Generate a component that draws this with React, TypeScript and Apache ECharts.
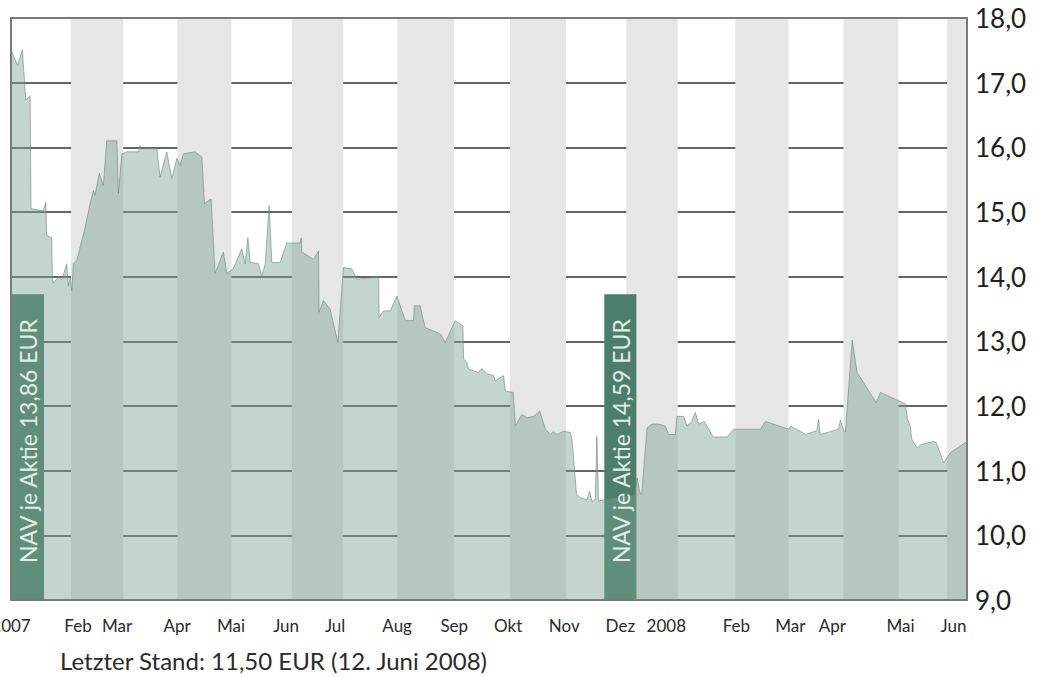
import React, { useEffect, useRef } from "react";
import * as echarts from "echarts";

// x unit: days since 1 Jan 2007
const xMin = -2.3;
const xMax = 528;
const yMin = 9;
const yMax = 18;

const firstTickLabel = "2007";
const tickDays = [34.9, 56.5, 89.8, 119.8, 150.3, 177.5, 211.9, 243.6, 273.5, 304.6, 335.7, 361.2, 400.1, 430.0, 453.3, 491.1, 520.5];
const tickLabels = ["Feb", "Mar", "Apr", "Mai", "Jun", "Jul", "Aug", "Sep", "Okt", "Nov", "Dez", "2008", "Feb", "Mar", "Apr", "Mai", "Jun"];

const monthStarts = [31, 60, 90, 120, 153.5, 182, 212, 243.5, 274.5, 305.5, 339, 367.5, 399.5, 429, 459.5, 490, 517];

const navDays = [-2.3, 1.4, 4.0, 5.9, 8.3, 8.8, 15.6, 17.0, 17.5, 20.3,
  20.6, 21.2, 24.0, 26.0, 28.6, 29.5, 30.5, 31.4, 32.3, 34.2,
  38.8, 41.6, 43.4, 44.3, 46.7, 48.9, 50.8, 56.4, 57.3, 59.2,
  61.9, 68.4, 69.3, 70.3, 78.6, 80.4, 84.1, 86.9, 89.7, 91.5,
  93.3, 99.8, 103.6, 105.0, 108.7, 110.9, 115.5, 117.4, 120.9, 125.7,
  127.6, 129.1, 130.4, 135.0, 136.8, 138.7, 140.9, 142.4, 147.0, 150.7,
  158.1, 158.7, 159.0, 165.5, 168.3, 168.6, 171.0, 174.7, 179.0, 182.1,
  186.8, 189.6, 201.6, 201.9, 204.3, 208.0, 211.8, 216.4, 221.0, 221.4,
  224.7, 225.8, 227.5, 234.0, 236.3, 238.5, 244.1, 248.4, 248.7, 250.6,
  251.5, 257.1, 258.9, 261.7, 265.4, 266.3, 270.9, 271.9, 276.3, 277.5,
  281.1, 284.0, 287.7, 291.0, 294.2, 297.0, 298.6, 300.6, 304.2, 307.9,
  308.9, 311.4, 313.5, 317.2, 318.6, 320.0, 321.8, 322.7, 323.6, 326.4,
  335.8, 343.5, 345.0, 346.8, 347.7, 350.5, 353.3, 356.9, 360.6, 362.5,
  366.2, 367.1, 370.8, 372.7, 375.1, 377.3, 379.1, 382.3, 387.1, 394.9,
  398.6, 413.4, 416.2, 429.2, 430.1, 438.5, 444.7, 445.7, 446.6, 456.8,
  457.7, 459.6, 460.6, 464.3, 467.0, 477.7, 480.0, 493.9, 494.9, 496.6,
  497.2, 500.3, 502.2, 505.9, 509.5, 511.0, 515.1, 518.8, 528];

const navValues = [17.5, 17.27, 17.51, 16.73, 16.8, 15.05, 15.02, 15.15, 14.64, 14.6,
  14.0, 13.9, 14.0, 13.95, 14.2, 13.86, 14.0, 13.78, 14.2, 14.25,
  14.76, 15.13, 15.33, 15.26, 15.6, 15.41, 16.1, 16.1, 15.29, 15.9,
  15.93, 15.93, 16.03, 15.98, 15.98, 15.54, 15.93, 15.52, 15.83, 15.72,
  15.9, 15.93, 15.85, 15.13, 15.2, 14.05, 14.38, 14.05, 14.12, 14.43,
  14.2, 14.6, 14.22, 14.2, 14.0, 14.2, 15.1, 14.22, 14.22, 14.52,
  14.52, 14.6, 14.38, 14.27, 14.4, 13.45, 13.63, 13.5, 12.98, 14.14,
  14.12, 13.96, 14.0, 13.37, 13.47, 13.47, 13.7, 13.32, 13.32, 13.55,
  13.55, 13.4, 13.21, 13.14, 13.1, 12.98, 13.32, 13.24, 12.73, 12.67,
  12.57, 12.52, 12.58, 12.5, 12.47, 12.39, 12.47, 12.23, 12.21, 11.69,
  11.87, 11.82, 11.84, 11.92, 11.64, 11.56, 11.6, 11.56, 11.61, 11.59,
  11.48, 10.63, 10.58, 10.55, 10.68, 10.52, 10.55, 11.53, 10.53, 10.55,
  10.58, 10.62, 10.89, 10.63, 10.68, 11.66, 11.72, 11.72, 11.69, 11.56,
  11.56, 11.84, 11.84, 11.69, 11.75, 11.9, 11.72, 11.76, 11.52, 11.52,
  11.64, 11.64, 11.76, 11.64, 11.69, 11.56, 11.62, 11.79, 11.56, 11.64,
  11.78, 11.62, 11.6, 13.02, 12.52, 12.05, 12.21, 12.03, 11.8, 11.69,
  11.5, 11.35, 11.4, 11.43, 11.45, 11.43, 11.12, 11.28, 11.45];

const boxStarts = [-2.3, 326.8];
const boxEnds = [16, 344.6];
const boxTops = [13.73, 13.73];
const boxLabels = ["NAV je Aktie 13,86 EUR", "NAV je Aktie 14,59 EUR"];

const footnote = "Letzter Stand: 11,50 EUR (12. Juni 2008)";

const FONT = "Lato, 'Open Sans', sans-serif";
const BORDER = "#7a7a7a";
const GRIDLINE = "#656565";

export default function App() {
  const ref = useRef<HTMLDivElement>(null);

  useEffect(() => {
    document.body.style.margin = "0";
    if (!ref.current) return;
    const chart = echarts.init(ref.current, undefined, { renderer: "svg" });

    const lineData = navDays.map((d, i) => [d, navValues[i]]);
    const bands: any[] = [];
    for (let i = 0; i < monthStarts.length; i += 2) {
      const a = monthStarts[i];
      const b = i + 1 < monthStarts.length ? monthStarts[i + 1] : xMax;
      bands.push([{ xAxis: a }, { xAxis: b }]);
    }
    const boxData = boxStarts.map((s, i) => [s, boxEnds[i], boxTops[i], yMin]);

    const xLabelStyle = {
      color: "#2a2a2a",
      fontSize: 17,
      fontFamily: FONT,
      margin: 17,
    };

    const borderAxisY = (position: string) => ({
      type: "value",
      min: yMin,
      max: yMax,
      interval: 1,
      position,
      z: 8,
      axisLine: { show: true, onZero: false, lineStyle: { color: BORDER, width: 2 } },
      axisTick: { show: false },
      axisLabel: { show: false },
      splitLine: { show: false },
    });

    const option: any = {
      animation: false,
      backgroundColor: "#ffffff",
      grid: { left: 11, right: 73, top: 18, bottom: 77, containLabel: false, outerBoundsMode: "none" },
      xAxis: [
        {
          type: "value",
          min: xMin,
          max: xMax,
          position: "bottom",
          z: 8,
          axisLine: { show: true, onZero: false, lineStyle: { color: BORDER, width: 2 } },
          axisTick: { show: false },
          splitLine: { show: false },
          axisLabel: {
            ...xLabelStyle,
            customValues: tickDays,
            hideOverlap: false,
            formatter: (v: number) => {
              const idx = tickDays.findIndex((t) => Math.abs(t - v) < 1e-6);
              return idx >= 0 ? tickLabels[idx] : "";
            },
          },
        },
        {
          type: "value",
          min: xMin,
          max: xMax,
          position: "top",
          z: 8,
          axisLine: { show: true, onZero: false, lineStyle: { color: BORDER, width: 2 } },
          axisTick: { show: false },
          axisLabel: { show: false },
          splitLine: { show: false },
        },
        {
          type: "value",
          min: xMin,
          max: xMax,
          position: "bottom",
          z: 8,
          axisLine: { show: false, onZero: false },
          axisTick: { show: false },
          splitLine: { show: false },
          axisLabel: {
            ...xLabelStyle,
            customValues: [xMin],
            align: "center",
            formatter: () => firstTickLabel,
          },
        },
      ],
      yAxis: [
        {
          type: "value",
          min: yMin,
          max: yMax,
          interval: 1,
          position: "right",
          z: 1,
          axisLine: { show: false, onZero: false },
          axisTick: { show: false },
          splitLine: { show: true, lineStyle: { color: GRIDLINE, width: 2 } },
          axisLabel: {
            color: "#1e1e1e",
            fontSize: 26,
            fontFamily: FONT,
            margin: 8,
            formatter: (v: number) => v.toFixed(1).replace(".", ","),
          },
        },
        borderAxisY("left"),
        borderAxisY("right"),
      ],
      series: [
        {
          name: "bands",
          type: "line",
          z: 0,
          data: lineData,
          showSymbol: false,
          silent: true,
          lineStyle: { opacity: 0 },
          markArea: {
            silent: true,
            itemStyle: { color: "#e6e6e6" },
            data: bands,
          },
        },
        {
          name: "boxes",
          type: "custom",
          z: 2,
          data: boxData,
          renderItem: (params: any, api: any) => {
            const p0 = api.coord([api.value(0), api.value(2)]);
            const p1 = api.coord([api.value(1), api.value(3)]);
            return {
              type: "rect",
              shape: { x: p0[0], y: p0[1], width: p1[0] - p0[0], height: p1[1] - p0[1] },
              style: { fill: "#4b7e6c" },
            };
          },
        },
        {
          name: "NAV",
          type: "line",
          z: 3,
          data: lineData,
          showSymbol: false,
          symbol: "none",
          lineStyle: { color: "rgba(100,138,124,0.6)", width: 1 },
          areaStyle: { color: "rgba(122,161,147,0.45)", opacity: 1, origin: "start" },
        },
        {
          name: "boxLabels",
          type: "custom",
          z: 4,
          data: boxData,
          renderItem: (params: any, api: any) => {
            const p0 = api.coord([api.value(0), api.value(2)]);
            const p1 = api.coord([api.value(1), api.value(3)]);
            return {
              type: "text",
              x: (p0[0] + p1[0]) / 2 + 1,
              y: (p0[1] + p1[1]) / 2 - 6,
              rotation: Math.PI / 2,
              style: {
                text: boxLabels[params.dataIndex],
                fill: "#e3ece7",
                fontSize: 23,
                fontFamily: FONT,
                align: "center",
                verticalAlign: "middle",
              },
            };
          },
        },
      ],
      graphic: [
        {
          type: "text",
          left: 60,
          top: 648,
          style: { text: footnote, fill: "#2a2a2a", fontSize: 24, fontFamily: FONT },
        },
      ],
    };

    chart.setOption(option);
    return () => chart.dispose();
  }, []);

  return <div ref={ref} style={{ width: 1040, height: 677 }} />;
}
